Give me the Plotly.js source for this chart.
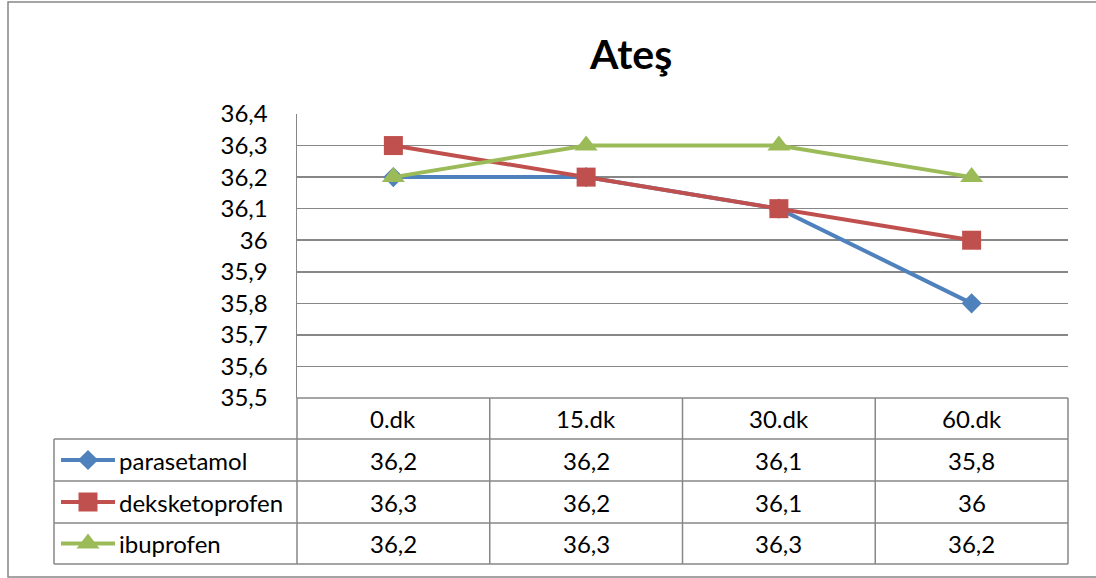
<!DOCTYPE html>
<html>
<head>
<meta charset="utf-8">
<script src="https://cdn.plot.ly/plotly-3.0.1.min.js"></script>
<style>html,body{margin:0;padding:0;background:#fff;}#chart{width:1096px;height:578px;}</style>
</head>
<body>
<div id="chart"></div>
<script>
// ---- data ----
const categories = ["0.dk", "15.dk", "30.dk", "60.dk"];
const seriesNames = ["parasetamol", "deksketoprofen", "ibuprofen"];
const parasetamol = [36.2, 36.2, 36.1, 35.8];
const deksketoprofen = [36.3, 36.2, 36.1, 36.0];
const ibuprofen = [36.2, 36.3, 36.3, 36.2];
const chartTitle = "Ateş";

// ---- styles ----
const W = 1096, H = 578;
const FONT = "Lato, 'Open Sans', sans-serif";
const FS = 24;
const colors = ["#4F81BD", "#C0504D", "#9BBB59"];
const symbols = ["diamond", "square", "triangle-up"];
const msizes = [15.5, 19, 20];
const gridColor = "#878787";
const values = [parasetamol, deksketoprofen, ibuprofen];

// plot area in pixels
const PL = 297, PR = 1068, PT = 114, PB = 398;
const colW = (PR - PL) / categories.length;
const rowTops = [439, 481, 523, 564];
const tableLeft = 54;

const fmt = v => String(v).replace(".", ",");

const traces = values.map((v, i) => ({
  type: "scatter", mode: "lines+markers",
  x: categories, y: v, name: seriesNames[i],
  xaxis: "x", yaxis: "y",
  line: {color: colors[i], width: 4},
  marker: {symbol: symbols[i], size: msizes[i], color: colors[i]},
  cliponaxis: false, showlegend: false, hoverinfo: "skip"
}));

// legend keys inside the data table (overlay pixel axes)
values.forEach((v, i) => {
  const yc = (rowTops[i] + rowTops[i + 1]) / 2;
  traces.push({
    type: "scatter", mode: "lines", x: [61, 115], y: [yc, yc],
    xaxis: "x2", yaxis: "y2", line: {color: colors[i], width: 4},
    showlegend: false, hoverinfo: "skip", cliponaxis: false
  });
  traces.push({
    type: "scatter", mode: "markers", x: [88], y: [yc],
    xaxis: "x2", yaxis: "y2",
    marker: {symbol: symbols[i], size: msizes[i], color: colors[i]},
    showlegend: false, hoverinfo: "skip", cliponaxis: false
  });
});

const shapes = [];
const lineStyle = {color: gridColor, width: 1.5};
function hl(x0, x1, y) { shapes.push({type: "line", xref: "x2", yref: "y2", x0, x1, y0: y, y1: y, line: lineStyle}); }
function vl(x, y0, y1) { shapes.push({type: "line", xref: "x2", yref: "y2", x0: x, x1: x, y0, y1, line: lineStyle}); }

// outer chart border
shapes.push({type: "rect", xref: "x2", yref: "y2", x0: 8, x1: 1110, y0: 2, y1: 577,
  line: {color: gridColor, width: 1.5}});
// table
hl(PL, PR, PB);
rowTops.forEach(y => hl(tableLeft, PR, y));
vl(tableLeft, rowTops[0], rowTops[rowTops.length - 1]);
for (let c = 0; c <= categories.length; c++) vl(PL + c * colW, PB, rowTops[rowTops.length - 1]);

const annotations = [];
const tfont = {family: FONT, size: FS, color: "#000"};
categories.forEach((c, j) => {
  const xc = PL + (j + 0.5) * colW;
  annotations.push({xref: "x2", yref: "y2", x: xc, y: (PB + rowTops[0]) / 2, text: c,
    showarrow: false, font: tfont, xanchor: "center", yanchor: "middle"});
  values.forEach((v, i) => {
    annotations.push({xref: "x2", yref: "y2", x: xc, y: (rowTops[i] + rowTops[i + 1]) / 2,
      text: fmt(v[j]), showarrow: false, font: tfont, xanchor: "center", yanchor: "middle"});
  });
});
seriesNames.forEach((n, i) => {
  annotations.push({xref: "x2", yref: "y2", x: 117, y: (rowTops[i] + rowTops[i + 1]) / 2,
    text: n, showarrow: false, font: tfont, xanchor: "left", yanchor: "middle"});
});
annotations.push({xref: "x2", yref: "y2", x: 630, y: 53, text: "<b>" + chartTitle + "</b>",
  showarrow: false, font: {family: FONT, size: 41, color: "#000"}, xanchor: "center", yanchor: "middle"});

const layout = {
  width: W, height: H,
  margin: {l: 0, r: 0, t: 0, b: 0},
  paper_bgcolor: "#ffffff", plot_bgcolor: "rgba(0,0,0,0)",
  separators: ",.",
  showlegend: false,
  font: {family: FONT, size: FS, color: "#000"},
  xaxis: {domain: [PL / W, PR / W], type: "category", range: [-0.5, categories.length - 0.5],
    showticklabels: false, showgrid: false, zeroline: false, showline: false, fixedrange: true, anchor: "y"},
  yaxis: {domain: [(H - PB) / H, (H - PT) / H], range: [35.5, 36.4], tick0: 35.5, dtick: 0.1,
    showgrid: true, gridcolor: gridColor, gridwidth: 1.5, zeroline: false,
    showline: true, linecolor: gridColor, linewidth: 1.5, ticks: "", ticklabelstandoff: 23,
    tickfont: {family: FONT, size: FS, color: "#000"}, fixedrange: true, anchor: "x"},
  xaxis2: {domain: [0, 1], range: [0, W], visible: false, fixedrange: true, anchor: "y2"},
  yaxis2: {domain: [0, 1], range: [H, 0], visible: false, fixedrange: true, anchor: "x2"},
  shapes, annotations
};

Plotly.newPlot("chart", traces, layout, {displayModeBar: false, staticPlot: true});
</script>
</body>
</html>
